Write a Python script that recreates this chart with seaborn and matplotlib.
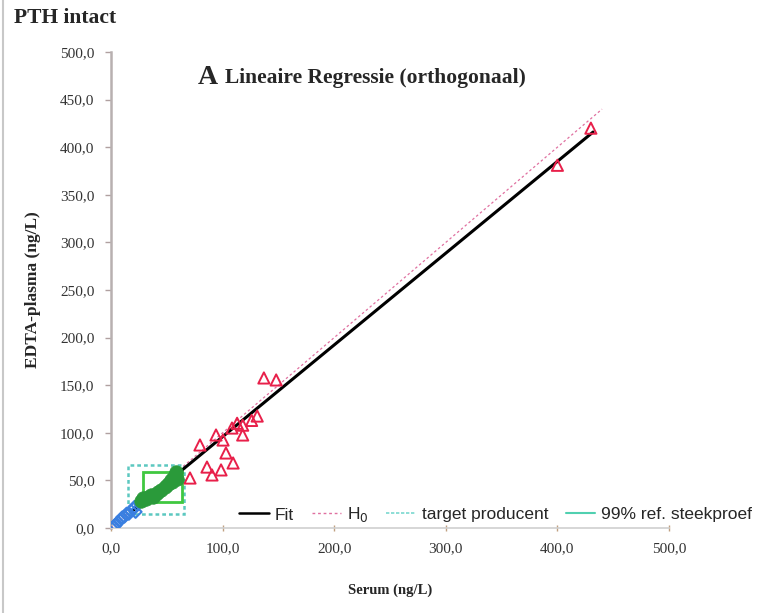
import numpy as np
import pandas as pd
import matplotlib
matplotlib.use("Agg")
import matplotlib.pyplot as plt
import seaborn as sns
from matplotlib.lines import Line2D
from matplotlib.patches import Rectangle

# ---- data ----
red_x = [70.8, 79.7, 94.1, 100.4, 103.0, 109.4, 86.0, 90.5, 98.6, 108.4, 113.0, 118.0, 118.0, 126.0, 131.0, 137.0, 148.0, 400.0, 430.0]
red_y = [52.5, 87.2, 97.7, 92.4, 78.8, 68.3, 64.0, 55.7, 61.0, 105.0, 110.0, 108.0, 97.7, 113.0, 117.6, 157.6, 155.5, 381.0, 420.0]
green_x = [27, 29, 31, 33, 36, 38, 40, 42, 45, 48, 50, 52, 54, 56, 57, 58, 59, 55]
green_y = [28, 31, 30, 33, 35, 33, 36, 38, 40, 43, 45, 47, 50, 53, 56, 59, 51, 48]
blue_x = [2, 4, 6, 8, 10, 12, 14, 16, 18, 20, 22, 21]
blue_y = [1, 3, 6, 8, 11, 12, 15, 15, 18, 20, 17, 22]
fit_x = [20, 432]
fit_slope, fit_icpt = 0.964, -0.5
h0_x = [0, 440]
target_box = (15, 15, 65, 66)   # x0, y0, x1, y1
ref_box = (28.5, 27.3, 63.5, 58.8)
xticks = [0, 100, 200, 300, 400, 500]
yticks = [0, 50, 100, 150, 200, 250, 300, 350, 400, 450, 500]

sns.set_theme(style="white")
serif = ["Liberation Serif", "DejaVu Serif"]
sans = ["Liberation Sans", "DejaVu Sans"]

fig = plt.figure(figsize=(7.71, 6.13), dpi=100)
ax = fig.add_axes([111/771, 85/613, 558/771, 476/613])

red = "#e8204a"
blue = "#3a7fe0"
green = "#2a9a3a"

# boxes
ax.add_patch(Rectangle((target_box[0], target_box[1]), target_box[2]-target_box[0], target_box[3]-target_box[1],
                       fill=False, edgecolor="#5cc8c0", linestyle=(0, (1.5, 1.2)), linewidth=1.8, zorder=2))
ax.add_patch(Rectangle((ref_box[0], ref_box[1]), ref_box[2]-ref_box[0], ref_box[3]-ref_box[1],
                       fill=False, edgecolor="#40c840", linewidth=2.0, zorder=2))

# lines
sns.lineplot(x=h0_x, y=h0_x, ax=ax, color="#e070a0", linestyle=(0, (2, 2)), linewidth=0.9, zorder=3)
fx = np.array(fit_x, dtype=float)
sns.lineplot(x=fx, y=fit_slope*fx + fit_icpt, ax=ax, color="black", linewidth=2.2, zorder=4)

# points
sns.scatterplot(x=blue_x, y=blue_y, ax=ax, marker="D", s=38, facecolors="none", edgecolors=blue, linewidth=1.5, zorder=5)
sns.scatterplot(x=green_x, y=green_y, ax=ax, marker="o", s=95, color=green, edgecolor=green, linewidth=0.5, zorder=6)
sns.scatterplot(x=red_x, y=red_y, ax=ax, marker="^", s=65, facecolors="none", edgecolors=red, linewidth=1.4, zorder=5)

ax.set_xlim(0, 500)
ax.set_ylim(0, 500)
ax.set_xticks(xticks)
ax.set_yticks(yticks)
ax.set_xticklabels([f"{v:.1f}".replace(".", ",") for v in xticks], fontfamily=serif, fontsize=11, color="#333333")
ax.set_yticklabels([f"{v:.1f}".replace(".", ",") for v in yticks], fontfamily=serif, fontsize=11, color="#333333")
for s in ["top", "right"]:
    ax.spines[s].set_visible(False)
ax.spines["left"].set_color("#b8b0b0")
ax.spines["left"].set_linewidth(1.8)
ax.spines["bottom"].set_color("#d0d0d0")
ax.spines["bottom"].set_linewidth(1.2)
ax.tick_params(axis="y", direction="out", length=4, width=1, color="#b0a0a0", pad=8, left=True)
ax.tick_params(axis="x", direction="inout", length=5, width=1, color="#c0a080", pad=8, bottom=True)
ax.grid(False)

ax.set_xlabel("Serum (ng/L)", fontfamily=serif, fontweight="bold", fontsize=10.5, labelpad=20)
ax.set_ylabel("EDTA-plasma (ng/L)", fontfamily=serif, fontweight="bold", fontsize=12.5, labelpad=14)

fig.text(14/771, 1-18/613, "PTH intact", fontfamily=serif, fontweight="bold", fontsize=15.5, va="center", ha="left")
fig.text(198/771, 1-78/613, "A", fontfamily=serif, fontweight="bold", fontsize=20, va="center", ha="left")
fig.text(225/771, 1-78/613, "Lineaire Regressie (orthogonaal)", fontfamily=serif, fontweight="bold", fontsize=15.5, va="center", ha="left")

# left border line
fig.add_artist(Line2D([3/771, 3/771], [0, 1], color="#c8c8c8", linewidth=1.5, transform=fig.transFigure))

handles = [
    Line2D([], [], color="black", linewidth=1.8),
    Line2D([], [], color="#e070a0", linestyle=(0, (2, 2)), linewidth=1.0),
    Line2D([], [], color="#7ad8d0", linestyle=(0, (2, 1)), linewidth=1.2),
    Line2D([], [], color="#50d0b0", linewidth=1.5),
]
labels = ["Fit", "H$_0$", "target producent", "99% ref. steekproef"]
fig.legend(handles, labels, loc="center left", bbox_to_anchor=(236/771, 1-515/613), ncol=4, frameon=False,
           prop={"family": sans, "size": 12.5}, handlelength=1.7, handletextpad=0.35, columnspacing=1.0,
           borderaxespad=0, borderpad=0.2)

fig.savefig("out.png", dpi=100)
